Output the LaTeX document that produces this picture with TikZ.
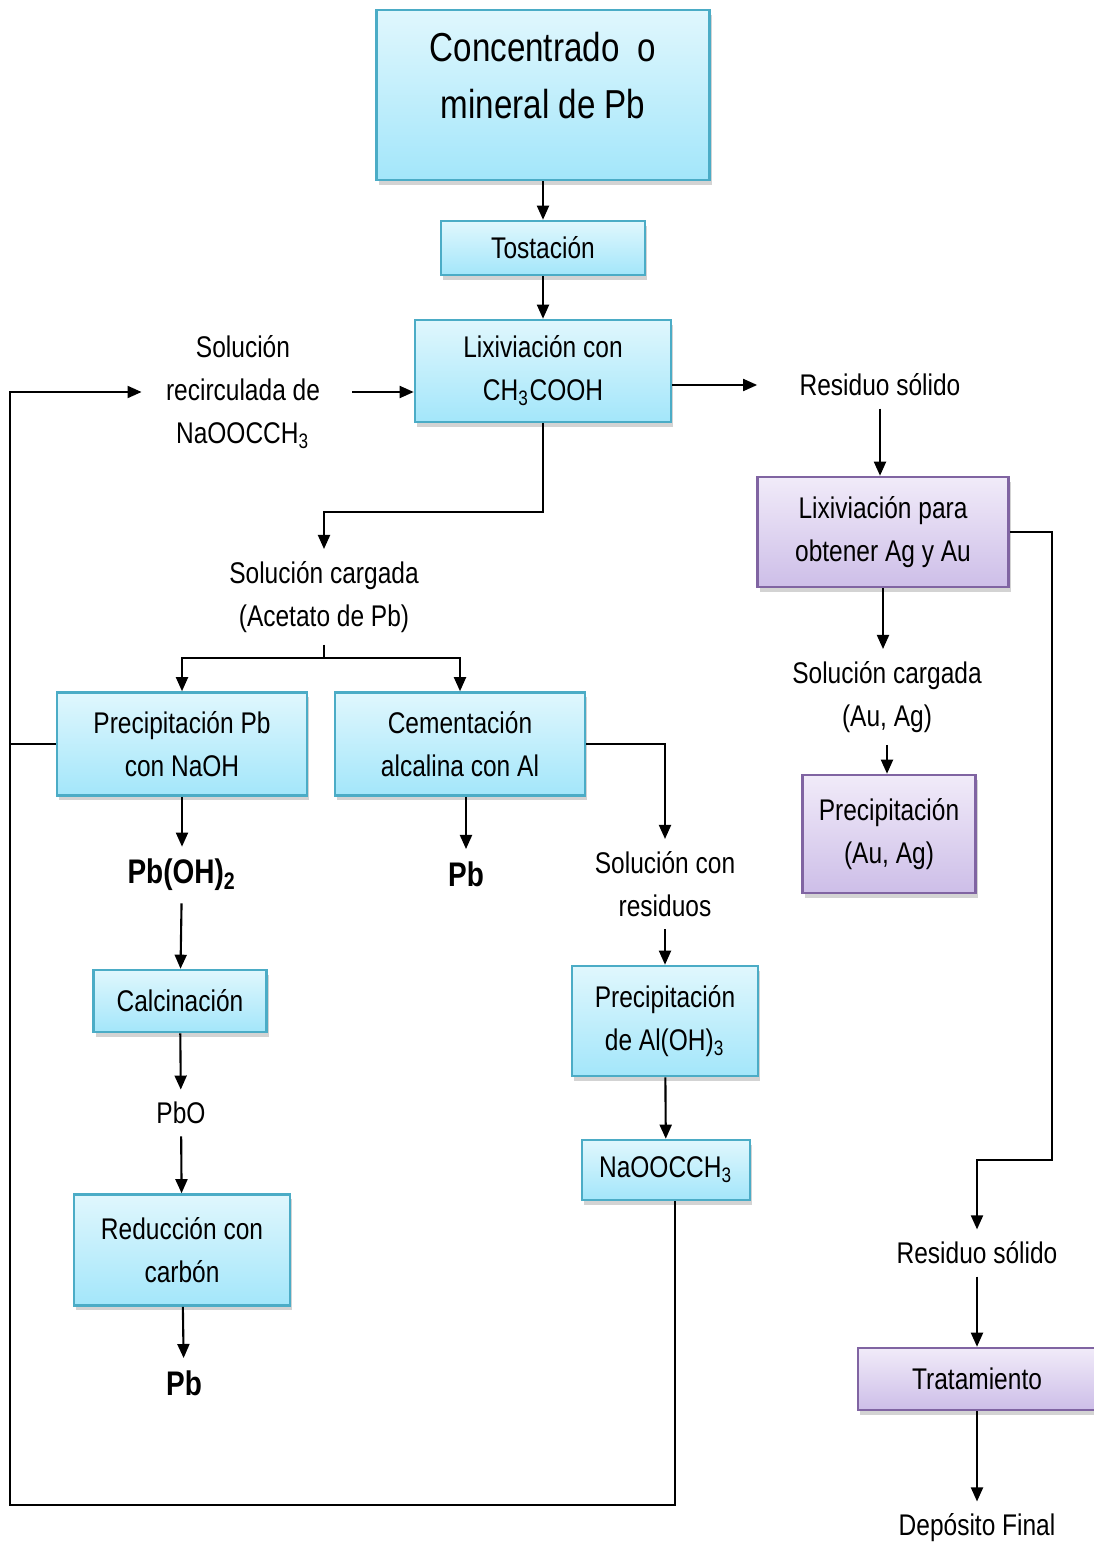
\documentclass[tikz,border=0pt]{standalone}
\usepackage{fontspec}
\setmainfont{Liberation Sans}[FakeStretch=0.82]
\usepackage{xcolor}
\usetikzlibrary{arrows.meta,shadows}

\definecolor{azulborde}{RGB}{75,172,198}
\definecolor{azularriba}{RGB}{224,247,253}
\definecolor{azulabajo}{RGB}{163,230,250}
\definecolor{moradoborde}{RGB}{128,100,162}
\definecolor{moradoarriba}{RGB}{241,235,249}
\definecolor{moradoabajo}{RGB}{205,190,232}

\tikzset{
caja/.style={draw=azulborde,line width=0.7pt,top color=azularriba,bottom color=azulabajo,
  drop shadow={shadow xshift=0.6pt,shadow yshift=-1.4pt,opacity=0.35},align=center,inner sep=0pt},
cajam/.style={caja,draw=moradoborde,top color=moradoarriba,bottom color=moradoabajo},
texto/.style={align=center},
negrita/.style={font=\fontsize{9.7}{12}\selectfont\bfseries},
flecha/.style={-{Triangle[length=4pt,width=3.4pt]},line width=0.6pt}
}

\begin{document}
\begin{tikzpicture}[x=0.01cm,y=-0.01cm,font=\fontsize{8.5}{12.2}\selectfont]
\useasboundingbox (0,0) rectangle (1093,1546);
% columna central
\node[caja,minimum width=3.33cm,minimum height=1.70cm] (conc) at (543,95) {};
\node[texto,font=\fontsize{11.5}{16.2}\selectfont] (conct) at (543,76) {Concentrado\ \ o\\mineral de Pb};
\node[caja,minimum width=2.04cm,minimum height=0.54cm] (tost) at (543,248) {Tostación};
\node[caja,minimum width=2.56cm,minimum height=1.02cm] (lix) at (543,371) {Lixiviación con\\CH\textsubscript{3}COOH};
\node[texto] (recirc) at (243,392) {Solución\\recirculada de\\NaOOCCH\textsubscript{3}};
\node[texto] (solpb) at (324,597) {Solución cargada\\(Acetato de Pb)};
% rama derecha (Ag, Au)
\node[texto] (resid1) at (880,385) {Residuo sólido};
\node[cajam,minimum width=2.51cm,minimum height=1.10cm] (lixau) at (883,532) {Lixiviación para\\obtener Ag y Au};
\node[texto] (solau) at (887,697) {Solución cargada\\(Au, Ag)};
\node[cajam,minimum width=1.73cm,minimum height=1.18cm] (precau) at (889,834) {Precipitación\\(Au, Ag)};
\node[texto] (resid2) at (977,1253) {Residuo sólido};
\node[cajam,minimum width=2.38cm,minimum height=0.62cm] (trat) at (977,1379) {Tratamiento};
\node[texto] (depo) at (977,1528) {Depósito Final};
% rama izquierda
\node[caja,minimum width=2.50cm,minimum height=1.03cm] (precpb) at (182,744) {Precipitación Pb\\con NaOH};
\node[negrita] (pboh) at (182,875) {Pb(OH)\textsubscript{2}};
\node[caja,minimum width=1.73cm,minimum height=0.62cm] (calc) at (180,1001) {Calcinación};
\node[texto] (pbo) at (181,1113) {PbO};
\node[caja,minimum width=2.16cm,minimum height=1.11cm] (red) at (182,1250) {Reducción con\\carbón};
\node[negrita] (pb2) at (184,1383) {Pb};
% cementacion
\node[caja,minimum width=2.50cm,minimum height=1.03cm] (cem) at (460,744) {Cementación\\alcalina con Al};
\node[negrita] (pb1) at (466,874) {Pb};
\node[texto] (solres) at (665,884) {Solución con\\residuos};
\node[caja,minimum width=1.86cm,minimum height=1.10cm] (precal) at (665,1021) {Precipitación\\de Al(OH)\textsubscript{3}};
\node[caja,minimum width=1.68cm,minimum height=0.60cm] (naoo) at (666,1170) {NaOOCCH\textsubscript{3}};
\coordinate (retorno) at (10,1505);
\coordinate (giro) at (1052,1160);
% flechas
\draw[flecha](conc)--(tost);
\draw[flecha](tost)--(lix);
\draw[flecha,shorten <=0.2cm](recirc.east)--(recirc.east-|lix.west);
\draw[flecha,shorten >=0.3cm](lix.east|-resid1.west)--(resid1.west);
\draw[flecha](resid1.south)--(resid1.south|-lixau.north);
\draw[flecha](lixau.east)-|(giro)-|(resid2.north);
\draw[flecha](lixau.south)--(lixau.south|-solau.north);
\draw[flecha](solau.south)--(solau.south|-precau.north);
\draw[flecha](resid2)--(trat);
\draw[flecha](trat)--(depo);
\draw[flecha](lix.south)--++(0,89)-|(solpb.north);
\draw[flecha](solpb.south)--++(0,13)-|(precpb.north);
\draw[flecha](solpb.south)--++(0,13)-|(cem.north);
\draw[flecha](cem.east)-|(solres.north);
\draw[flecha](solres)--(precal);
\draw[flecha](precal)--(naoo);
\draw[flecha,shorten >=0.12cm]([xshift=0.09cm]naoo.south)|-(retorno)|-(recirc.west);
\draw(precpb.west)--(precpb.west-|retorno);
\draw[flecha](precpb)--(pboh);
\draw[flecha](pboh)--(calc);
\draw[flecha](calc)--(pbo);
\draw[flecha](pbo)--(red);
\draw[flecha](red)--(pb2);
\draw[flecha](cem.south-|pb1.north)--(pb1.north);
\end{tikzpicture}
\end{document}
